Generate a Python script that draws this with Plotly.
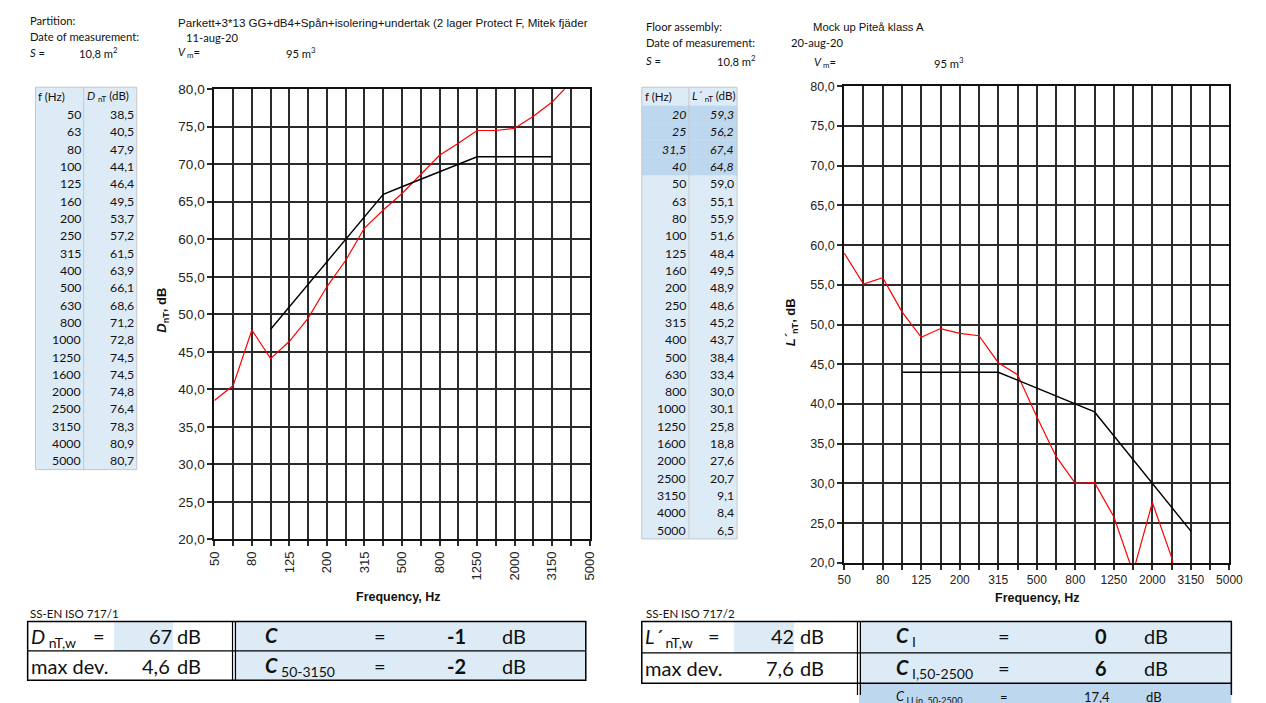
import plotly.graph_objects as go

W, H = 1266, 703

# One-third octave bands shown on both charts
FREQ_LABELS = ["50", "63", "80", "100", "125", "160", "200", "250", "315", "400", "500",
               "630", "800", "1000", "1250", "1600", "2000", "2500", "3150", "4000", "5000"]
AXIS_LABELS = ["50", "80", "125", "200", "315", "500", "800", "1250", "2000", "3150", "5000"]

# Airborne sound insulation (ISO 717-1)
DNT = [38.5, 40.5, 47.9, 44.1, 46.4, 49.5, 53.7, 57.2, 61.5, 63.9, 66.1,
       68.6, 71.2, 72.8, 74.5, 74.5, 74.8, 76.4, 78.3, 80.9, 80.7]
REF_FREQS = FREQ_LABELS[3:19]  # 100 .. 3150 Hz
REF_AIRBORNE = [48, 51, 54, 57, 60, 63, 66, 67, 68, 69, 70, 71, 71, 71, 71, 71]

# Impact sound level (ISO 717-2)
LOW_FREQ_LABELS = ["20", "25", "31,5", "40"]
LNT_LOW = [59.3, 56.2, 67.4, 64.8]
LNT = [59.0, 55.1, 55.9, 51.6, 48.4, 49.5, 48.9, 48.6, 45.2, 43.7, 38.4,
       33.4, 30.0, 30.1, 25.8, 18.8, 27.6, 20.7, 9.1, 8.4, 6.5]
REF_IMPACT = [44, 44, 44, 44, 44, 44, 43, 42, 41, 40, 39, 36, 33, 30, 27, 24]

# Single-number results
DNTW, DNTW_DEV, C_AIR, C_AIR_50 = "67", "4,6", "-1", "-2"
LNTW, LNTW_DEV, C_I, C_I_50, C_I_LIN = "42", "7,6", "0", "6", "17,4"

ARIAL = "Liberation Sans, Arial, sans-serif"
CALIBRI = "Lato, Noto Sans, sans-serif"
LIGHT = "#DDEBF7"
DARK = "#BDD7EE"

# band positions on the frequency axes
BAND_POS = {f: i for i, f in enumerate(FREQ_LABELS)}
X_ALL = [BAND_POS[f] for f in FREQ_LABELS]
X_REF = [BAND_POS[f] for f in REF_FREQS]
X_TICKS = [BAND_POS[f] for f in AXIS_LABELS]


def fx(px):
    """pixel column -> paper x"""
    return px / W


def fy(py):
    """pixel row -> paper y"""
    return 1 - py / H


def dec(v):
    return f"{v:.1f}".replace(".", ",")


fig = go.Figure()
annotations = []
shapes = []


def text(x, y, s, size, anchor="left", font=CALIBRI, color="#111", angle=0):
    annotations.append(dict(
        x=fx(x), y=fy(y), xref="paper", yref="paper", text=s, showarrow=False,
        xanchor=anchor, yanchor="middle", textangle=angle,
        font=dict(family=font, size=size, color=color),
        borderpad=0, borderwidth=0))


def rect(x0, y0, x1, y1, fill=None, line=None, width=1.0):
    shapes.append(dict(
        type="rect", xref="paper", yref="paper", layer="below",
        x0=fx(x0), x1=fx(x1), y0=fy(y0), y1=fy(y1),
        fillcolor=fill if fill else "rgba(0,0,0,0)",
        line=dict(color=line if line else "rgba(0,0,0,0)", width=width if line else 0)))


def hline(x0, x1, y, color="#000", width=1.2):
    shapes.append(dict(type="line", xref="paper", yref="paper", layer="above",
                       x0=fx(x0), x1=fx(x1), y0=fy(y), y1=fy(y),
                       line=dict(color=color, width=width)))


def vline(x, y0, y1, color="#000", width=1.2):
    shapes.append(dict(type="line", xref="paper", yref="paper", layer="above",
                       x0=fx(x), x1=fx(x), y0=fy(y0), y1=fy(y1),
                       line=dict(color=color, width=width)))


# ---------------------------------------------------------------- charts
AX_LEFT = dict(x=(210, 592), y=(84, 544))
AX_RIGHT = dict(x=(851, 1243), y=(81, 568))

fig.add_trace(go.Scatter(x=X_ALL, y=DNT, mode="lines",
                         line=dict(color="#FF0000", width=1.2),
                         xaxis="x", yaxis="y", showlegend=False))
fig.add_trace(go.Scatter(x=X_REF, y=REF_AIRBORNE, mode="lines",
                         line=dict(color="#000000", width=1.4),
                         xaxis="x", yaxis="y", showlegend=False))
fig.add_trace(go.Scatter(x=X_ALL, y=LNT, mode="lines",
                         line=dict(color="#FF0000", width=1.2),
                         xaxis="x2", yaxis="y2", showlegend=False))
fig.add_trace(go.Scatter(x=X_REF, y=REF_IMPACT, mode="lines",
                         line=dict(color="#000000", width=1.4),
                         xaxis="x2", yaxis="y2", showlegend=False))

GRID = "#2b2b2b"


def xaxis_cfg(box, angle, size, anchor):
    return dict(
        domain=[fx(box["x"][0]), fx(box["x"][1])], anchor=anchor,
        range=[0, len(FREQ_LABELS) - 1],
        tickmode="array", tickvals=X_TICKS, ticktext=AXIS_LABELS,
        tickangle=angle, tickfont=dict(family=ARIAL, size=size, color="#222"),
        ticks="outside", ticklen=5, tickwidth=1.5, tickcolor=GRID,
        showgrid=True, gridcolor=GRID, gridwidth=1.5,
        minor=dict(tickmode="linear", tick0=0, dtick=1, showgrid=True,
                   gridcolor=GRID, gridwidth=1.5, ticks="outside", ticklen=5,
                   tickwidth=1.5, tickcolor=GRID),
        showline=True, linecolor="#111", linewidth=2, mirror=True,
        zeroline=False, fixedrange=True)


def yaxis_cfg(box, size, anchor):
    return dict(
        domain=[fy(box["y"][1]), fy(box["y"][0])], anchor=anchor,
        range=[20, 80], tickmode="linear", tick0=20, dtick=5, tickformat=".1f",
        tickfont=dict(family=ARIAL, size=size, color="#222"),
        ticks="outside", ticklen=5, tickwidth=1.5, tickcolor=GRID,
        showgrid=True, gridcolor=GRID, gridwidth=1.5,
        showline=True, linecolor="#111", linewidth=2, mirror=True,
        zeroline=False, fixedrange=True)


# axis titles
text(157, 310, "<b><i>D</i><sub>nT</sub>, dB</b>", 13, anchor="center", font=ARIAL, angle=-90)
text(397, 603, "<b>Frequency, Hz</b>", 12.5, anchor="center", font=ARIAL)
text(797, 322, "<b><i>L´</i><sub>nT</sub>, dB</b>", 13, anchor="center", font=ARIAL, angle=-90)
text(1048, 604, "<b>Frequency, Hz</b>", 12.5, anchor="center", font=ARIAL)

# ---------------------------------------------------------------- headers
HDR = 11.2
text(22, 14, "Partition:", HDR)
text(22, 30, "Date of measurement:", HDR)
text(22, 46, "<i>S</i> =", HDR)
text(72, 46, "10,8 m<sup>2</sup>", HDR)
text(173, 16, "Parkett+3*13 GG+dB4+Spån+isolering+undertak (2 lager Protect F, Mitek fjäder", 11.6, font=ARIAL)
text(181, 31, "11-aug-20", HDR)
text(173, 47, "<i>V</i><sub> m</sub>=", HDR)
text(283, 47, "95 m<sup>3</sup>", HDR)

text(649, 20, "Floor assembly:", HDR)
text(819, 20, "Mock up Piteå klass A", 11.3, font=ARIAL)
text(649, 36, "Date of measurement:", HDR)
text(797, 36, "20-aug-20", HDR)
text(649, 55, "<i>S</i> =", HDR)
text(722, 55, "10,8 m<sup>2</sup>", HDR)
text(820, 57, "<i>V</i><sub> m</sub>=", HDR)
text(942, 57, "95 m<sup>3</sup>", HDR)


# ---------------------------------------------------------------- tables
def draw_table(x_edges, top, header_h, row_h, headers, col1, col2, fills, italic):
    x0, xm, x1 = x_edges
    n = len(col1)
    bottom = top + header_h + n * row_h
    rect(x0, top, x1, bottom, fill=LIGHT)
    for i in range(n):
        if fills[i] != LIGHT:
            r0 = top + header_h + i * row_h
            rect(x0, r0, x1, r0 + row_h, fill=fills[i])
    rect(x0, top, x1, bottom, line="#C6C6C6", width=1)
    vline(xm, top, bottom, color="#C6C6C6", width=1)
    text(x0 + 3, top + header_h / 2, headers[0], 11.5)
    text(xm + 3, top + header_h / 2, headers[1], 11.5)
    for i in range(n):
        yc = top + header_h + (i + 0.5) * row_h
        a, b = col1[i], col2[i]
        if italic[i]:
            a, b = f"<i>{a}</i>", f"<i>{b}</i>"
        text(xm - 3, yc, a, 12.3, anchor="right")
        text(x1 - 3, yc, b, 12.3, anchor="right")


draw_table((28, 77, 131), 82, 19, 17.7,
           ["f (Hz)", "<i>D</i> <sub>nT</sub> (dB)"],
           FREQ_LABELS, [dec(v) for v in DNT],
           [LIGHT] * len(DNT), [False] * len(DNT))

right_freqs = LOW_FREQ_LABELS + FREQ_LABELS
right_vals = [dec(v) for v in LNT_LOW + LNT]
draw_table((645, 693, 742), 82, 19, 17.7,
           ["f (Hz)", "<i>L´</i> <sub>nT</sub> (dB)"],
           right_freqs, right_vals,
           [DARK] * len(LNT_LOW) + [LIGHT] * len(LNT),
           [True] * len(LNT_LOW) + [False] * len(LNT))

# ---------------------------------------------------------------- result boxes
BOX = 20
text(22, 620, "SS-EN ISO 717/1", 11.5)
rect(230, 628, 588, 688, fill=LIGHT)
rect(108, 628, 168, 658, fill=LIGHT)
rect(20, 628, 588, 688, line="#000", width=1.5)
hline(20, 588, 658, width=1.3)
vline(228.5, 628, 688, width=1.2)
vline(231.5, 628, 688, width=1.2)
text(23, 644, "<i>D</i><sub> nT,w</sub>", BOX)
text(93, 643, "=", BOX, anchor="center")
text(167, 643, DNTW, BOX, anchor="right")
text(172, 643, "dB", BOX)
text(23, 673, "max dev.", BOX)
text(165, 673, DNTW_DEV, BOX, anchor="right")
text(172, 673, "dB", BOX)
text(262, 642, "<b><i>C</i></b>", BOX)
text(379, 643, "=", BOX, anchor="center")
text(456, 643, f"<b>{C_AIR}</b>", BOX, anchor="center")
text(503, 643, "dB", BOX)
text(262, 674, "<b><i>C</i></b><sub> 50-3150</sub>", BOX)
text(379, 673, "=", BOX, anchor="center")
text(456, 673, f"<b>{C_AIR_50}</b>", BOX, anchor="center")
text(503, 673, "dB", BOX)

text(649, 620, "SS-EN ISO 717/2", 11.5)
rect(866, 628, 1245, 691, fill=LIGHT)
rect(866, 691, 1245, 712, fill=DARK)
rect(739, 628, 800, 660, fill=LIGHT)
rect(645, 628, 1245, 691, line="#000", width=1.5)
hline(645, 1245, 660, width=1.3)
vline(864.5, 628, 703, width=1.2)
vline(867.5, 628, 703, width=1.2)
vline(1245, 691, 703, width=1.5)
text(648, 644, "<i>L´</i><sub> nT,w</sub>", BOX)
text(718, 643, "=", BOX, anchor="center")
text(800, 643, LNTW, BOX, anchor="right")
text(806, 643, "dB", BOX)
text(648, 675, "max dev.", BOX)
text(800, 675, LNTW_DEV, BOX, anchor="right")
text(806, 675, "dB", BOX)
text(904, 643, "<b><i>C</i></b><sub> I</sub>", BOX)
text(1014, 643, "=", BOX, anchor="center")
text(1112, 643, f"<b>{C_I}</b>", BOX, anchor="center")
text(1156, 643, "dB", BOX)
text(904, 676, "<b><i>C</i></b><sub> I,50-2500</sub>", BOX)
text(1014, 675, "=", BOX, anchor="center")
text(1112, 675, f"<b>{C_I_50}</b>", BOX, anchor="center")
text(1156, 675, "dB", BOX)
# third result row runs past the bottom edge of the sheet
text(904, 705, "<i>C</i><sub> I,Lin, 50-2500</sub>", 13)
text(1014, 705, "=", 13, anchor="center")
text(1108, 705, C_I_LIN, 13, anchor="center")
text(1166, 705, "dB", 13, anchor="center")

fig.update_layout(
    width=W, height=H, margin=dict(l=0, r=0, t=0, b=0),
    paper_bgcolor="white", plot_bgcolor="white",
    separators=", ",
    xaxis=xaxis_cfg(AX_LEFT, -90, 13, "y"),
    yaxis=yaxis_cfg(AX_LEFT, 13.5, "x"),
    xaxis2=xaxis_cfg(AX_RIGHT, 0, 12, "y2"),
    yaxis2=yaxis_cfg(AX_RIGHT, 12.5, "x2"),
    annotations=annotations, shapes=shapes,
    showlegend=False,
)

fig.write_html("out.html")
